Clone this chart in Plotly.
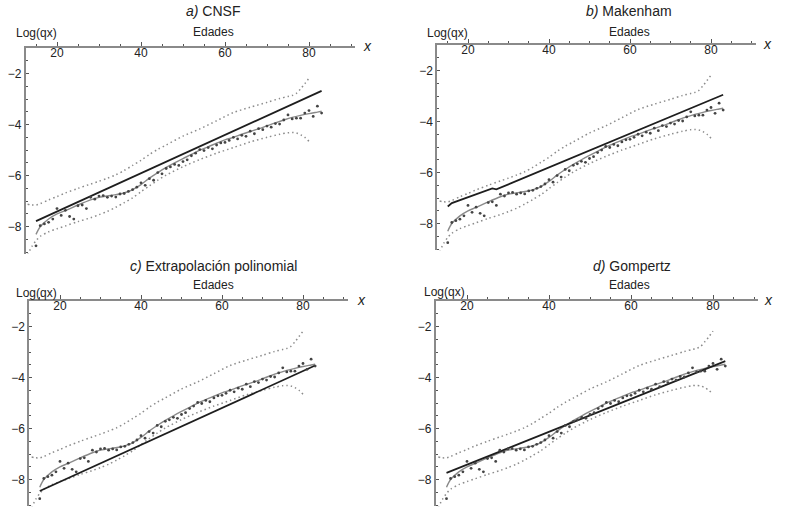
import plotly.graph_objects as go

# ---------------- data ----------------
ages_obs = list(range(15, 84))
obs_vals = [-8.75, -7.96, -7.89, -7.83, -7.70, -7.29, -7.56, -7.36, -7.60, -7.70,
            -7.18, -7.15, -7.29, -6.85, -6.92, -6.80, -6.78, -6.85, -6.80, -6.84,
            -6.72, -6.70, -6.62, -6.55, -6.45, -6.28, -6.38, -6.12, -6.18, -5.88,
            -5.93, -5.72, -5.66, -5.56, -5.60, -5.45, -5.38, -5.22, -5.12, -4.98,
            -5.02, -4.90, -4.95, -4.80, -4.72, -4.70, -4.62, -4.50, -4.56, -4.42,
            -4.46, -4.26, -4.36, -4.16, -4.20, -4.06, -4.10, -3.96, -3.98, -3.82,
            -3.62, -3.78, -3.75, -3.75, -3.55, -3.45, -3.68, -3.28, -3.55]

smooth_ages = [15, 16, 18, 20, 22, 25, 28, 30, 33, 35, 37, 38, 40, 42, 44, 46, 48, 50,
               52, 54, 56, 58, 60, 62, 64, 66, 68, 70, 72, 74, 76, 78, 80, 82, 83]
smooth_vals = [-8.30, -8.00, -7.70, -7.50, -7.37, -7.15, -6.95, -6.85, -6.77, -6.72,
               -6.62, -6.55, -6.35, -6.10, -5.88, -5.68, -5.50, -5.33, -5.17, -5.00,
               -4.87, -4.73, -4.60, -4.50, -4.38, -4.27, -4.17, -4.05, -3.93, -3.82,
               -3.72, -3.64, -3.57, -3.51, -3.48]

band_ages = [13, 14, 15, 16, 18, 20, 22, 25, 28, 30, 32, 34, 36, 38, 40, 42, 44, 46,
             50, 54, 58, 62, 66, 70, 73, 75, 76, 77, 78, 79, 80]
upper_band = [-7.12, -7.15, -7.15, -7.10, -6.95, -6.82, -6.68, -6.50, -6.33, -6.22,
              -6.10, -5.97, -5.80, -5.60, -5.40, -5.17, -4.97, -4.80, -4.45, -4.17,
              -3.85, -3.53, -3.32, -3.13, -2.98, -2.90, -2.86, -2.78, -2.60, -2.40, -2.18]
lower_band = [-9.10, -8.78, -8.55, -8.38, -8.20, -8.08, -7.97, -7.80, -7.65, -7.53,
              -7.40, -7.24, -7.06, -6.87, -6.63, -6.40, -6.18, -5.98, -5.65, -5.37,
              -5.12, -4.90, -4.68, -4.50, -4.38, -4.32, -4.31, -4.33, -4.40, -4.50, -4.66]

cnsf_ages = [15, 83]
cnsf_vals = [-7.78, -2.68]
makenham_ages = [15, 16, 26, 27, 83]
makenham_vals = [-7.33, -7.20, -6.62, -6.66, -2.95]
poly_ages = [15, 83]
poly_vals = [-8.45, -3.53]
gompertz_ages = [15, 83]
gompertz_vals = [-7.74, -3.36]

titles = ["<i>a)</i> CNSF", "<i>b)</i> Makenham",
          "<i>c)</i> Extrapolación polinomial", "<i>d)</i> Gompertz"]
model_ages = [cnsf_ages, makenham_ages, poly_ages, gompertz_ages]
model_vals = [cnsf_vals, makenham_vals, poly_vals, gompertz_vals]

# ---------------- layout geometry (pixels) ----------------
W, H = 800, 508
panels = [
    dict(px20=57, ppu=4.2, xr=[12.6, 91.0], top=48, bot=253.5,
         title=(213, 11), edades=(213, 32), logq=(36, 33), xlab=(367, 46)),
    dict(px20=468, ppu=4.05, xr=[12.4, 91.0], top=45, bot=250.3,
         title=(629, 11), edades=(629, 32), logq=(447, 33), xlab=(767, 44)),
    dict(px20=60, ppu=4.05, xr=[12.4, 91.0], top=301, bot=506.3,
         title=(213, 266), edades=(213, 285), logq=(36, 293), xlab=(361, 300)),
    dict(px20=467, ppu=4.1, xr=[12.4, 91.0], top=301, bot=506.3,
         title=(632, 266), edades=(629, 285), logq=(444, 292), xlab=(768, 300)),
]
YR = [-9.05, -1.0]

FONT = "Liberation Sans, Arial, sans-serif"
AXC = "#8a8a8a"

fig = go.Figure()
layout = dict(width=W, height=H, margin=dict(l=0, r=0, t=0, b=0, autoexpand=False),
              paper_bgcolor="white", plot_bgcolor="white", showlegend=False,
              font=dict(family=FONT, color="#222222", size=12))
annotations = []

for i, p in enumerate(panels):
    n = "" if i == 0 else str(i + 1)
    xa, ya = "x" + n, "y" + n
    left = p["px20"] - (20 - p["xr"][0]) * p["ppu"]
    right = p["px20"] + (p["xr"][1] - 20) * p["ppu"]
    layout["xaxis" + n] = dict(
        domain=[left / W, right / W], range=p["xr"], anchor=ya, side="top",
        automargin=False,
        showline=True, linecolor=AXC, linewidth=2, showgrid=False, zeroline=False,
        ticks="outside", ticklen=4, tickwidth=1, tickcolor="#555555",
        tick0=0, dtick=20, ticklabelposition="inside",
        minor=dict(dtick=5, tick0=0, ticks="outside", ticklen=2, tickcolor="#555555"),
        tickfont=dict(size=12, color="#222222", family=FONT))
    layout["yaxis" + n] = dict(
        domain=[1 - p["bot"] / H, 1 - p["top"] / H], range=YR, anchor=xa,
        automargin=False,
        showline=True, linecolor=AXC, linewidth=2, showgrid=False, zeroline=False,
        ticks="inside", ticklen=3, tickwidth=1, tickcolor="#555555",
        tick0=0, dtick=2,
        minor=dict(dtick=0.5, tick0=0, ticks="inside", ticklen=2, tickcolor="#555555"),
        tickfont=dict(size=12, color="#222222", family=FONT))

    for band in (upper_band, lower_band):
        fig.add_trace(go.Scatter(x=band_ages, y=band, mode="lines", xaxis=xa, yaxis=ya,
                                 line=dict(color="#8c8c8c", width=1.5, dash="1.5px,3px",
                                           shape="spline", smoothing=0.8),
                                 hoverinfo="skip"))
    fig.add_trace(go.Scatter(x=smooth_ages, y=smooth_vals, mode="lines", xaxis=xa, yaxis=ya,
                             line=dict(color="#8a8a8a", width=1.4, shape="spline", smoothing=0.8),
                             hoverinfo="skip"))
    fig.add_trace(go.Scatter(x=model_ages[i], y=model_vals[i], mode="lines", xaxis=xa, yaxis=ya,
                             line=dict(color="#1e1e1e", width=1.8)))
    fig.add_trace(go.Scatter(x=ages_obs, y=obs_vals, mode="markers", xaxis=xa, yaxis=ya,
                             marker=dict(color="#444444", size=2.8)))

    def ann(txt, pos, size):
        annotations.append(dict(text=txt, x=pos[0] / W, y=1 - pos[1] / H, xref="paper",
                                yref="paper", showarrow=False, xanchor="center",
                                yanchor="middle",
                                font=dict(size=size, family=FONT, color="#222222")))
    ann(titles[i], p["title"], 14)
    ann("Edades", p["edades"], 12)
    ann("Log(qx)", p["logq"], 12)
    ann("<i>x</i>", p["xlab"], 14)

layout["annotations"] = annotations
fig.update_layout(**layout)
fig.write_html("out.html", config={"displayModeBar": False},
               post_script="document.body.style.margin='0';document.body.style.overflow='hidden';")
